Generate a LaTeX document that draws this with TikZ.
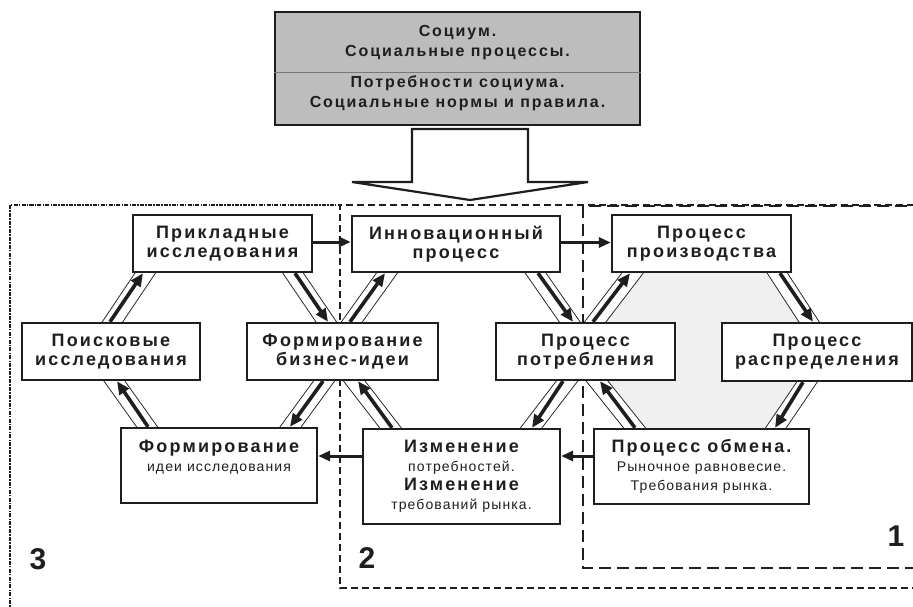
\documentclass[tikz,border=0pt]{standalone}
\usepackage{fontspec}
\setmainfont{Liberation Sans}
\newfontfamily\lsA{Liberation Sans}[LetterSpace=12]
\newfontfamily\lsB{Liberation Sans}[LetterSpace=8]
\newfontfamily\lsC{Liberation Sans}[LetterSpace=12]
\newcommand\mymain{\lsA\bfseries\fontsize{18}{19}\selectfont}
\newcommand\mysub{\lsB\mdseries\fontsize{14}{15}\selectfont}
\newcommand\mytop{\lsC\bfseries\fontsize{16}{17}\selectfont}
\newcommand\mynum{\bfseries\fontsize{30}{32}\selectfont}
\usetikzlibrary{arrows.meta}
\pgfdeclarelayer{bg}
\pgfsetlayers{bg,main}
\definecolor{ink}{HTML}{1E1E1E}
\definecolor{socfill}{HTML}{BDBDBD}
\definecolor{hexfill}{HTML}{F0F0F0}
\begin{document}
\begin{tikzpicture}[x=1pt,y=-1pt,
  box/.style={draw=ink, line width=2.4pt, fill=white, inner sep=0pt, align=center, text=ink, font=\mymain},
  arr/.style={draw=ink, line width=3.6pt, -{Triangle[length=13pt,width=11pt]}},
  harr/.style={draw=ink, line width=3pt, -{Triangle[length=12pt,width=10pt]}},
  ring/.style={draw=ink, line width=0.9pt, double=white, double distance=16pt, rounded corners=20pt},
  fthree/.style={draw=ink, line width=1.8pt, dash pattern=on 4pt off 1.2pt on 1.5pt off 1.2pt},
  ftwo/.style={draw=ink, line width=2.2pt, dash pattern=on 7pt off 4pt},
  fone/.style={draw=ink, line width=1.1pt, dash pattern=on 12pt off 6pt},
  num/.style={text=ink, font=\mynum, inner sep=0pt},
  toptext/.style={text=ink, font=\mytop, inner sep=0pt, anchor=base}
]
\useasboundingbox (0,0) rectangle (913,607);

% ---------- top box ----------
\node[draw=ink, line width=2.4pt, fill=socfill, minimum width=365pt, minimum height=113pt, inner sep=0pt] (soc) at (457.5,68.5) {};
\coordinate (dv) at (0,72);
\draw[draw=ink!60, line width=0.6pt] (soc.west |- dv) -- (soc.east |- dv);
\node[toptext] (s1) at (457.5,37) {Социум.};
\node[toptext] (s2) at (457.5,57) {Социальные процессы.};
\node[toptext] (s3) at (457.5,88) {Потребности социума.};
\node[toptext] (s4) at (457.5,108) {Социальные нормы и правила.};

% big arrow
\draw[draw=ink, fill=white, line width=2.2pt, line join=miter]
  (412,129) -- (528,129) -- (528,182) -- (588,182) -- (470,200) -- (352,182) -- (412,182) -- cycle;

% ---------- boxes ----------
\node[box, minimum width=179pt, minimum height=57pt] (prikl) at (222.5,243.5) {Прикладные\\исследования};
\node[box, minimum width=178pt, minimum height=57pt] (poisk) at (111,351.5) {Поисковые\\исследования};
\node[box, minimum width=191pt, minimum height=57pt] (biz) at (342.5,351.5) {Формирование\\бизнес-идеи};
\node[box, minimum width=208pt, minimum height=56pt] (innov) at (456,244) {Инновационный\\процесс};
\node[box, minimum width=179pt, minimum height=57pt] (potr) at (585.5,351.5) {Процесс\\потребления};
\node[box, minimum width=179pt, minimum height=57pt] (proizv) at (701.5,243.5) {Процесс\\производства};
\node[box, minimum width=190pt, minimum height=58pt] (raspr) at (817,352) {Процесс\\распределения};
\node[box, minimum width=196pt, minimum height=75pt] (formid) at (219,465.5) {Формирование\\{\mysub идеи исследования}\\ \mbox{}};
\node[box, minimum width=197pt, minimum height=95pt] (izm) at (461.5,476.5) {Изменение\\{\mysub потребностей.}\\Изменение\\{\mysub требований рынка.}};
\node[box, minimum width=215pt, minimum height=75pt] (obmen) at (701.5,466.5) {Процесс обмена.\\{\mysub Рыночное равновесие.}\\{\mysub Требования рынка.}};

% ---------- background: rings and frames ----------
\coordinate (aL) at (93,351);  \coordinate (aTL) at (164,245); \coordinate (aTR) at (274,245);
\coordinate (aR) at (346,351); \coordinate (aBR) at (262,466); \coordinate (aBL) at (175,466);
\coordinate (bL) at (331,351); \coordinate (bTL) at (407,245); \coordinate (bTR) at (516,245);
\coordinate (bR) at (590,351); \coordinate (bBR) at (502,466); \coordinate (bBL) at (420,466);
\coordinate (cL) at (573,351); \coordinate (cTL) at (654,245); \coordinate (cTR) at (759,245);
\coordinate (cR) at (828,351); \coordinate (cBR) at (750,466); \coordinate (cBL) at (665,466);
\begin{pgfonlayer}{bg}
\fill[white] (0,0) rectangle (913,607);
\fill[hexfill, rounded corners=20pt] (cL) -- (cTL) -- (cTR) -- (cR) -- (cBR) -- (cBL) -- cycle;
\draw[ring] (aL) -- (aTL) -- (aTR) -- (aR) -- (aBR) -- (aBL) -- cycle;
\draw[ring] (bL) -- (bTL) -- (bTR) -- (bR) -- (bBR) -- (bBL) -- cycle;
\draw[ring] (cL) -- (cTL) -- (cTR) -- (cR) -- (cBR) -- (cBL) -- cycle;
\draw[fthree] (10,620) -- (10,205) -- (340,205);
\draw[ftwo] (925,205) -- (340,205) -- (340,588) -- (925,588);
\draw[fone] (925,206) -- (583,206) -- (583,568) -- (925,568);
\end{pgfonlayer}

% ---------- hexagon arrows ----------
\draw[arr] ([xshift=-1pt]poisk.north) -- ([xshift=-79.5pt]prikl.south);
\draw[arr] ([xshift=72.5pt]prikl.south) -- ([xshift=-14.5pt]biz.north);
\draw[arr] ([xshift=-19.5pt]biz.south) -- ([xshift=71pt]formid.north);
\draw[arr] ([xshift=-71pt]formid.north) -- ([xshift=6pt]poisk.south);

\draw[arr] ([xshift=7.5pt]biz.north) -- ([xshift=-71pt]innov.south);
\draw[arr] ([xshift=82pt]innov.south) -- ([xshift=-12.5pt]potr.north);
\draw[arr] ([xshift=-22.5pt]potr.south) -- ([xshift=70.5pt]izm.north);
\draw[arr] ([xshift=-69.5pt]izm.north) -- ([xshift=15.5pt]biz.south);

\draw[arr] ([xshift=7.5pt]potr.north) -- ([xshift=-71.5pt]proizv.south);
\draw[arr] ([xshift=78.5pt]proizv.south) -- ([xshift=-4pt]raspr.north);
\draw[arr] ([xshift=-14pt]raspr.south) -- ([xshift=73.5pt]obmen.north);
\draw[arr] ([xshift=-66.5pt]obmen.north) -- ([xshift=14.5pt]potr.south);

% ---------- horizontal arrows ----------
\draw[harr] ([yshift=1.5pt]prikl.east) -- ([yshift=1.5pt]prikl.east -| innov.west);
\draw[harr] ([yshift=1.5pt]innov.east) -- ([yshift=1.5pt]innov.east -| proizv.west);
\draw[harr] ([yshift=10.5pt]obmen.west) -- ([yshift=10.5pt]obmen.west -| izm.east);
\draw[harr] ([yshift=20.5pt]izm.west) -- ([yshift=20.5pt]izm.west -| formid.east);

% ---------- zone numbers ----------
\node[num] (n3) at (38,559) {3};
\node[num] (n2) at (367,558) {2};
\node[num] (n1) at (896,536) {1};
\end{tikzpicture}
\end{document}
